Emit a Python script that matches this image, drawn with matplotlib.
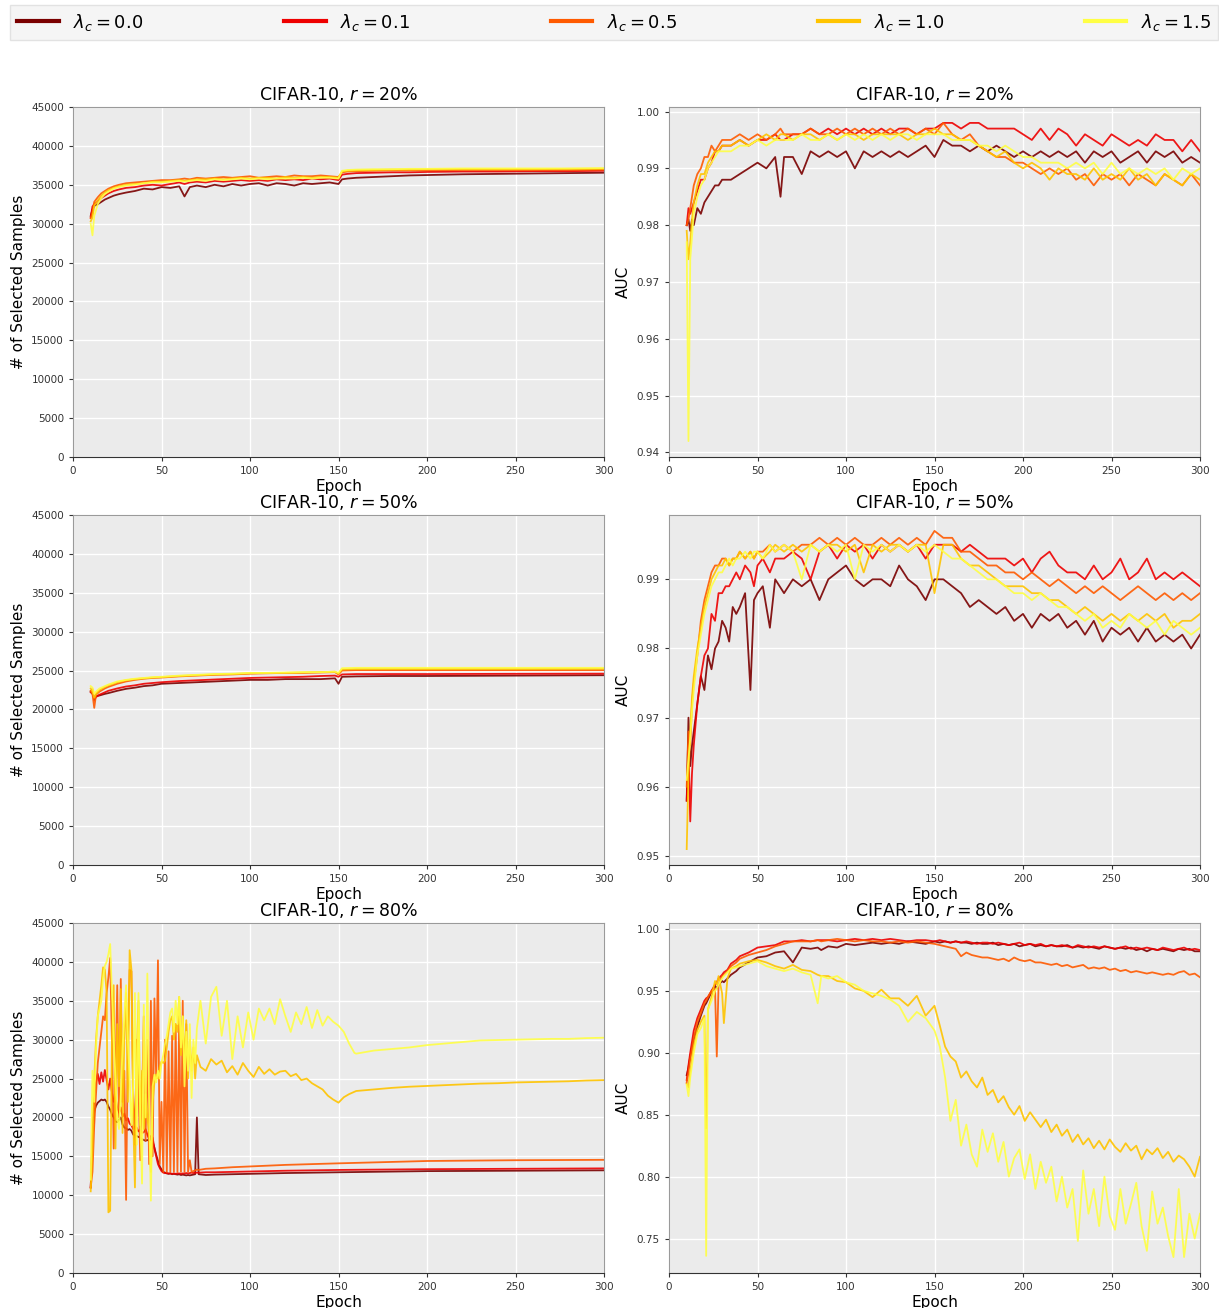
import numpy as np
from matplotlib import pyplot as plt

# line colours for lambda_c = 0.0, 0.1, 0.5, 1.0, 1.5
lam_labels = [r'$\lambda_c = 0.0$', r'$\lambda_c = 0.1$', r'$\lambda_c = 0.5$',
              r'$\lambda_c = 1.0$', r'$\lambda_c = 1.5$']
lam_colors = ['#7a0000', '#ee0000', '#ff5a00', '#ffc400', '#ffff44']

## ---- r = 20%, number of selected samples ----
ep_a = [10, 11, 12, 14, 16, 18, 20, 23, 26, 30, 35, 40, 45, 50, 55, 60, 63, 66, 70, 75, 80,
        85, 90, 95, 100, 105, 110, 115, 120, 125, 130, 135, 140, 145, 150, 152, 155, 160,
        170, 180, 190, 200, 220, 240, 260, 280, 300]
sel20_l00 = [31000, 31800, 32300, 32500, 32800, 33100, 33300, 33600, 33800, 34000, 34200, 34500,
             34400, 34700, 34600, 34800, 33500, 34700, 34900, 34700, 35000, 34800, 35100, 34900,
             35100, 35200, 34900, 35200, 35100, 34900, 35200, 35100, 35200, 35300, 35100, 35700,
             35800, 35900, 36000, 36100, 36200, 36250, 36350, 36400, 36450, 36500, 36550]
sel20_l01 = [30800, 32200, 32500, 32900, 33300, 33600, 33900, 34200, 34400, 34600, 34700, 34900,
             35000, 34900, 35100, 35300, 35100, 35300, 35400, 35300, 35500, 35400, 35500, 35600,
             35500, 35600, 35500, 35700, 35600, 35700, 35600, 35800, 35700, 35800, 35600, 36300,
             36400, 36500, 36550, 36600, 36600, 36650, 36700, 36700, 36750, 36750, 36800]
sel20_l05 = [30700, 31500, 32800, 33400, 33900, 34200, 34500, 34800, 35000, 35200, 35300, 35400,
             35500, 35600, 35600, 35700, 35800, 35700, 35900, 35800, 35900, 36000, 35900, 36000,
             36100, 35900, 36000, 36100, 36000, 36200, 36100, 36100, 36200, 36100, 36000, 36600,
             36700, 36750, 36800, 36850, 36850, 36850, 36900, 36900, 36900, 36900, 36950]
sel20_l10 = [30300, 30800, 32300, 33000, 33600, 34000, 34300, 34600, 34800, 35000, 35100, 35200,
             35400, 35400, 35500, 35600, 35500, 35600, 35700, 35700, 35800, 35700, 35800, 35900,
             35800, 35900, 35900, 35800, 36000, 35900, 36000, 35900, 36000, 36000, 35900, 36700,
             36800, 36850, 36900, 36950, 36950, 37000, 37000, 37000, 37000, 37050, 37050]
sel20_l15 = [30000, 28500, 31000, 32500, 33300, 33800, 34100, 34500, 34700, 34900, 35000, 35200,
             35300, 35300, 35400, 35500, 35400, 35500, 35600, 35500, 35700, 35600, 35700, 35800,
             35700, 35800, 35700, 35800, 35800, 35800, 35900, 35800, 35900, 35900, 35800, 36800,
             36900, 36950, 37000, 37000, 37050, 37050, 37100, 37100, 37100, 37100, 37150]

## ---- r = 50%, number of selected samples ----
ep_b = [10, 11, 12, 13, 15, 18, 20, 25, 30, 35, 40, 45, 50, 60, 70, 80, 90, 100, 110, 120,
        130, 140, 148, 150, 152, 160, 180, 200, 250, 300]
sel50_l00 = [22300, 22000, 21500, 21700, 21800, 22000, 22100, 22400, 22650, 22800, 23000, 23100,
             23300, 23400, 23500, 23600, 23700, 23800, 23800, 23900, 23900, 23900, 24000, 23300,
             24200, 24250, 24300, 24300, 24350, 24400]
sel50_l01 = [22200, 22600, 21200, 21600, 21900, 22200, 22400, 22700, 22950, 23100, 23300, 23400,
             23500, 23650, 23750, 23850, 23950, 24050, 24100, 24150, 24200, 24300, 24350, 24200,
             24500, 24550, 24550, 24550, 24580, 24600]
sel50_l05 = [22400, 22000, 20200, 21900, 22300, 22700, 22900, 23300, 23600, 23800, 23950, 24050,
             24100, 24250, 24350, 24450, 24500, 24600, 24650, 24700, 24700, 24750, 24800, 24500,
             25000, 25050, 25050, 25050, 25050, 25050]
sel50_l10 = [22700, 22300, 21500, 22000, 22500, 22900, 23100, 23500, 23750, 23900, 24000, 24100,
             24150, 24300, 24400, 24500, 24550, 24650, 24700, 24700, 24750, 24800, 24850, 24600,
             25150, 25200, 25200, 25200, 25200, 25220]
sel50_l15 = [23000, 22800, 22000, 22300, 22700, 23000, 23200, 23600, 23800, 23950, 24050, 24150,
             24200, 24350, 24450, 24550, 24600, 24700, 24700, 24750, 24800, 24800, 24850, 24700,
             25300, 25350, 25350, 25350, 25350, 25350]

## ---- r = 80%, number of selected samples ----
ep_c_early = list(range(10, 71))
ep_c_tail = [71, 75, 80, 90, 100, 120, 150, 200, 250, 300]
ep_c_mid = list(range(72, 160, 3))
ep_c_late = list(range(160, 301, 10))
sel80_l00 = [11000, 17000, 20800, 21500, 21900, 22100, 22300, 22200, 22300, 22000,
             21400, 21000, 20400, 20000, 19500, 19400, 19700, 20000, 19100, 18700,
             18600, 18400, 18500, 18300, 17800, 17700, 17600, 17500, 17400, 17200,
             17100, 17000, 17100, 17000, 17300, 16900, 16100, 15200, 14400, 13700,
             13300, 13000, 12900, 12800, 12750, 12800, 12700, 12750, 12700, 12650,
             12700, 12600, 12650, 12600, 12550, 12600, 12550, 12600, 12650, 12700,
             20000,
             12700, 12600, 12650, 12700, 12750, 12850, 12950, 13100, 13150, 13200]
sel80_l01 = [11000, 17500, 22500, 24500, 25600, 24300, 25800, 24600, 26100, 24800,
             23600, 25000, 23200, 22000, 22600, 21200, 20600, 21300, 20100, 20500,
             19600, 19900, 19200, 19000, 18500, 18800, 18700, 18200, 18400, 18000,
             18100, 18500, 17800, 17200, 17600, 17400, 16000, 15000, 14000, 13500,
             13100, 12900, 12850, 12850, 12800, 12800, 12750, 12800, 12750, 12800,
             12800, 12750, 12800, 12800, 12850, 12800, 12850, 12900, 12850, 12900,
             12900,
             12900, 12950, 12950, 13000, 13050, 13150, 13250, 13350, 13400, 13450]
sel80_l05 = [11000, 13000, 19000, 23000, 27000, 29000, 31000, 33000, 32500, 36000,
             38000, 40500, 30000, 16000, 25000, 37000, 20000, 37800, 22000, 26000,
             9400, 30000, 39000, 38800, 23000, 16500, 30000, 24000, 14500, 22000,
             33000, 17000, 30000, 14000, 35000, 15000, 35300, 25000, 40200, 14000,
             22000, 13000, 30000, 13000, 28500, 13000, 30500, 13000, 32000, 13000,
             33000, 13000, 35000, 13000, 32000, 13000, 14500, 13000, 13100, 13200,
             13300,
             13250, 13400, 13450, 13600, 13700, 13900, 14100, 14400, 14500, 14550]
sel80_l10 = [10500, 16000, 25000, 30000, 33000, 35000, 37000, 39300, 39000, 36000,
             7800, 8000, 30000, 37000, 16000, 32000, 24000, 36500, 18000, 30000,
             36000, 22000, 41500, 39000, 20000, 11000, 28000, 35000, 19000, 26000,
             18500, 23000, 20000, 18000, 13000, 22000, 24500, 25500, 25000, 26500,
             27200, 27000, 27300, 29000, 31000, 32500, 33000, 30000, 32000, 31000,
             35500, 28000, 33000, 27000, 32500, 25000, 30000, 26000, 29000, 25000,
             28000,
             26500, 26000, 27500, 26800, 27300, 25800, 26600, 25500, 27000, 26000,
             25200, 26500, 25600, 26200, 25500, 25900, 26000, 25300, 25600, 24800,
             25000, 24400, 24000, 23600, 22800, 22300, 21900, 22600, 23000, 23300,
             23400, 23600, 23800, 23950, 24050, 24150, 24250, 24350, 24400, 24500,
             24550, 24600, 24650, 24750, 24800]
sel80_l15 = [12000, 26000, 22000, 29000, 33000, 34000, 35000, 38000, 39500, 40000,
             41000, 42300, 36000, 30000, 25000, 20000, 18500, 23000, 29000, 33000,
             37000, 30000, 25000, 19000, 24000, 36000, 16500, 36000, 20000, 11500,
             34500, 20000, 38500, 22000, 9300, 24000, 25500, 24500, 26000, 25000,
             27000, 28000, 29500, 30500, 32000, 33500, 34000, 31000, 35000, 32000,
             35500, 29000, 33000, 24000, 31000, 26000, 32000, 22500, 30000, 27000,
             31500,
             35000, 29500, 35500, 36800, 30500, 35000, 27500, 33000, 29000, 33500,
             30000, 34000, 32500, 34000, 32000, 35200, 33000, 31000, 33500, 32000,
             34200, 31500, 33800, 31800, 33000, 32300, 31800, 31000, 29500, 28300,
             28200, 28600, 28800, 29000, 29300, 29500, 29700, 29900, 29950, 30000,
             30050, 30100, 30100, 30200, 30250]

## ---- r = 20%, AUC (in 1/1000) ----
ep_d = [10, 11, 12, 13, 14, 16, 18, 20, 22, 24, 26, 28, 30, 35, 40, 45, 50, 55, 60, 63, 65] + \
       list(range(70, 301, 5))
auc20_l00 = [980, 981, 979, 981, 980, 983, 982, 984, 985, 986, 987, 987, 988, 988, 989, 990, 991,
             990, 992, 985, 992,
             992, 989, 993, 992, 993, 992, 993, 990, 993, 992, 993, 992, 993, 992, 993, 994, 992,
             995, 994, 994, 993, 994, 993, 994, 993, 992, 993, 992, 993, 992, 993, 992, 993, 991,
             993, 992, 993, 991, 992, 993, 991, 993, 992, 993, 991, 992, 991]
auc20_l01 = [980, 983, 982, 983, 984, 986, 988, 988, 990, 991, 993, 993, 994, 994, 995, 994, 995,
             995, 996, 995, 995,
             996, 996, 997, 996, 997, 996, 997, 996, 997, 996, 997, 996, 997, 997, 996, 997, 997,
             998, 998, 997, 998, 998, 997, 997, 997, 997, 996, 995, 997, 995, 997, 996, 994, 996,
             995, 994, 996, 995, 994, 995, 994, 996, 995, 995, 993, 995, 993]
auc20_l05 = [980, 981, 983, 985, 987, 989, 990, 992, 992, 994, 993, 994, 995, 995, 996, 995, 996,
             995, 996, 997, 996,
             996, 996, 997, 996, 996, 997, 996, 997, 996, 997, 996, 997, 996, 997, 996, 997, 996,
             998, 996, 995, 996, 994, 993, 992, 992, 991, 991, 990, 989, 990, 989, 990, 988, 989,
             987, 989, 988, 989, 987, 989, 988, 987, 989, 988, 987, 989, 987]
auc20_l10 = [979, 974, 977, 981, 984, 987, 989, 989, 991, 992, 993, 993, 994, 994, 995, 994, 995,
             996, 995, 996, 996,
             995, 996, 996, 995, 996, 995, 996, 996, 995, 996, 996, 996, 996, 995, 996, 996, 997,
             996, 996, 995, 995, 994, 993, 992, 993, 991, 990, 991, 990, 988, 990, 989, 989, 988,
             990, 988, 989, 988, 990, 988, 989, 987, 989, 988, 987, 989, 988]
auc20_l15 = [977, 942, 974, 978, 982, 985, 987, 988, 990, 991, 992, 993, 993, 993, 994, 994, 995,
             994, 995, 995, 995,
             995, 996, 995, 995, 996, 995, 996, 995, 996, 995, 996, 995, 996, 996, 995, 996, 996,
             996, 995, 995, 995, 994, 994, 993, 994, 993, 992, 992, 991, 991, 991, 990, 991, 990,
             991, 989, 991, 989, 990, 989, 990, 989, 990, 988, 990, 989, 990]

## ---- r = 50%, AUC (in 1/1000) ----
ep_e = [10, 11, 12, 13, 14, 16, 18, 20, 22, 24, 26, 28, 30, 32, 34, 36, 38, 40, 43, 46, 48, 50,
        53, 57, 60, 65] + list(range(70, 301, 5))
auc50_l00 = [958, 970, 963, 966, 968, 972, 976, 974, 979, 977, 980, 981, 984, 983, 981, 986, 985,
             986, 988, 974, 987, 988, 989, 983, 990, 988,
             990, 989, 990, 987, 990, 991, 992, 990, 989, 990, 990, 989, 992, 990, 989, 987, 990,
             990, 989, 988, 986, 987, 986, 985, 986, 984, 985, 983, 985, 984, 985, 983, 984, 982,
             984, 981, 983, 982, 983, 981, 983, 981, 982, 981, 982, 980, 982]
auc50_l01 = [958, 966, 955, 962, 966, 972, 976, 979, 980, 985, 984, 988, 988, 989, 989, 990, 991,
             990, 992, 991, 989, 992, 993, 991, 993, 993,
             994, 993, 990, 994, 995, 993, 995, 994, 995, 993, 995, 994, 995, 994, 995, 993, 995,
             995, 995, 994, 995, 994, 993, 993, 993, 992, 993, 991, 993, 994, 992, 991, 991, 990,
             992, 990, 991, 993, 990, 991, 993, 990, 991, 990, 991, 990, 989]
auc50_l05 = [960, 968, 966, 972, 975, 979, 984, 987, 989, 991, 992, 992, 993, 993, 992, 993, 993,
             994, 993, 994, 993, 994, 994, 995, 994, 995,
             994, 995, 995, 996, 995, 996, 995, 996, 995, 995, 996, 995, 996, 995, 996, 995, 997,
             996, 996, 994, 994, 993, 992, 992, 991, 991, 990, 991, 990, 989, 990, 989, 988, 989,
             988, 989, 988, 987, 988, 989, 988, 987, 988, 987, 988, 987, 988]
auc50_l10 = [951, 962, 968, 973, 976, 980, 983, 986, 988, 990, 991, 992, 992, 993, 992, 993, 993,
             994, 993, 994, 993, 994, 993, 994, 995, 994,
             995, 994, 995, 994, 995, 995, 994, 995, 991, 995, 994, 995, 995, 994, 995, 995, 988,
             995, 995, 993, 992, 992, 991, 990, 989, 989, 989, 988, 988, 987, 987, 986, 985, 986,
             985, 984, 985, 984, 985, 984, 985, 984, 985, 983, 984, 984, 985]
auc50_l15 = [961, 964, 967, 971, 974, 979, 982, 985, 987, 989, 990, 991, 991, 992, 993, 992, 993,
             993, 994, 993, 994, 994, 993, 995, 994, 995,
             994, 990, 995, 994, 995, 994, 995, 990, 995, 994, 995, 994, 995, 994, 995, 994, 995,
             994, 993, 993, 992, 991, 990, 990, 989, 988, 988, 987, 988, 987, 986, 986, 985, 984,
             985, 983, 984, 983, 985, 984, 983, 984, 982, 984, 983, 982, 983]

## ---- r = 80%, AUC (in 1/1000) ----
ep_f = [10, 11, 12, 14, 16, 18, 20, 21, 22, 24, 26, 27, 28, 30, 31, 33, 35, 38, 40, 45, 50, 55,
        60, 65, 70, 75, 80, 84, 86, 90, 95, 100, 105, 110, 115, 120, 125, 130, 135, 140, 145] + \
       list(range(150, 301, 3))
auc80_l00 = [882, 888, 897, 911, 921, 930, 938, 940, 943, 949, 954, 952, 955, 958, 957, 960, 963,
             966, 969, 973, 977, 978, 981, 982, 973, 985, 984, 985, 983, 986, 985, 988, 987, 988,
             989, 988, 989, 988, 990, 989, 988,
             990, 989, 990, 989, 990, 989, 989, 988, 989, 988, 988, 989, 987, 988, 987, 988, 986,
             987, 988, 986, 987, 986, 987, 986, 986, 987, 985, 986, 985, 986, 985, 984, 986, 985,
             984, 985, 984, 985, 983, 984, 982, 984, 983, 984, 983, 982, 984, 983, 984, 982, 982]
auc80_l01 = [878, 890, 900, 918, 928, 935, 942, 944, 945, 950, 955, 957, 960, 963, 965, 967, 972,
             975, 978, 981, 985, 986, 987, 990, 990, 991, 990, 991, 991, 991, 990, 991, 992, 991,
             992, 991, 992, 991, 990, 991, 991,
             990, 991, 990, 989, 990, 989, 990, 989, 988, 989, 989, 988, 989, 988, 987, 988, 989,
             987, 988, 987, 988, 986, 987, 986, 987, 986, 985, 987, 986, 985, 986, 985, 986, 985,
             984, 985, 986, 984, 985, 984, 985, 984, 983, 985, 984, 983, 984, 985, 983, 984, 983]
auc80_l05 = [876, 884, 895, 912, 925, 932, 940, 942, 945, 950, 952, 897, 955, 962, 963, 966, 970,
             973, 976, 979, 981, 983, 986, 988, 990, 990, 990, 991, 990, 991, 992, 991, 990, 991,
             990, 990, 989, 990, 989, 990, 989,
             988, 987, 986, 985, 984, 978, 981, 979, 978, 977, 977, 976, 975, 976, 974, 977, 975,
             974, 975, 973, 973, 972, 971, 972, 970, 971, 969, 970, 971, 968, 969, 968, 969, 967,
             968, 966, 967, 965, 966, 965, 964, 965, 964, 963, 964, 963, 965, 966, 963, 964, 961]
auc80_l10 = [875, 872, 885, 905, 918, 925, 930, 839, 935, 945, 958, 955, 962, 948, 924, 960, 968,
             970, 972, 974, 975, 973, 970, 968, 971, 967, 966, 963, 962, 962, 958, 957, 952, 950,
             945, 951, 944, 944, 938, 946, 930,
             938, 922, 905, 897, 893, 880, 885, 877, 872, 880, 866, 870, 860, 865, 856, 850, 857,
             845, 852, 846, 840, 846, 836, 842, 833, 838, 828, 834, 826, 831, 823, 829, 822, 830,
             824, 820, 827, 821, 825, 814, 822, 818, 823, 815, 820, 812, 817, 814, 808, 800, 816]
auc80_l15 = [874, 865, 880, 900, 915, 920, 928, 736, 935, 942, 950, 952, 955, 960, 962, 965, 968,
             969, 970, 972, 974, 970, 968, 966, 968, 965, 963, 940, 962, 960, 962, 957, 955, 950,
             948, 946, 943, 938, 925, 933, 928,
             918, 905, 880, 845, 862, 825, 842, 818, 808, 838, 820, 835, 812, 828, 800, 815, 822,
             798, 818, 790, 812, 795, 808, 780, 800, 775, 790, 748, 805, 770, 790, 760, 800, 768,
             757, 790, 762, 778, 795, 760, 740, 788, 762, 775, 752, 735, 790, 735, 770, 750, 770]


def style_axes(ax, title, ylabel):
    ax.set_facecolor('#ebebeb')
    ax.grid(True, color='white', linewidth=1.0)
    ax.set_axisbelow(True)
    for side in ['top', 'right', 'left']:
        ax.spines[side].set_color('#9a9a9a')
    ax.spines['bottom'].set_color('#333333')
    ax.tick_params(labelsize=7.5, colors='#333333', length=3, width=0.8)
    ax.set_title(title, fontsize=12.5, pad=5)
    ax.set_xlabel('Epoch', fontsize=11, labelpad=2)
    ax.set_ylabel(ylabel, fontsize=11, labelpad=4)
    ax.set_xlim(0, 300)
    ax.set_xticks(np.arange(0, 301, 50))


fig = plt.figure(figsize=(12.19, 13.08), dpi=100)

lefts = [73 / 1219, 669 / 1219]
bottoms = [1 - 457 / 1308, 1 - 865 / 1308, 1 - 1273 / 1308]
w = 531 / 1219
h = 350 / 1308

axs = [[fig.add_axes([lefts[c], bottoms[r], w, h]) for c in range(2)] for r in range(3)]

# left column: number of selected samples
sel_panels = [
    ('20', [(ep_a, sel20_l00), (ep_a, sel20_l01), (ep_a, sel20_l05), (ep_a, sel20_l10), (ep_a, sel20_l15)]),
    ('50', [(ep_b, sel50_l00), (ep_b, sel50_l01), (ep_b, sel50_l05), (ep_b, sel50_l10), (ep_b, sel50_l15)]),
    ('80', [(ep_c_early + ep_c_tail, sel80_l00), (ep_c_early + ep_c_tail, sel80_l01),
            (ep_c_early + ep_c_tail, sel80_l05),
            (ep_c_early + ep_c_mid + ep_c_late, sel80_l10), (ep_c_early + ep_c_mid + ep_c_late, sel80_l15)]),
]
for r, (pct, series) in enumerate(sel_panels):
    ax = axs[r][0]
    for (x, y), col in zip(series, lam_colors):
        ax.plot(x, y, color=col, lw=1.3, alpha=0.9)
    style_axes(ax, r'CIFAR-10, $r = %s\%%$' % pct, '# of Selected Samples')
    ax.set_ylim(0, 45000)
    ax.set_yticks(np.arange(0, 45001, 5000))

# right column: AUC (y range left to autoscale)
auc_panels = [
    ('20', ep_d, [auc20_l00, auc20_l01, auc20_l05, auc20_l10, auc20_l15]),
    ('50', ep_e, [auc50_l00, auc50_l01, auc50_l05, auc50_l10, auc50_l15]),
    ('80', ep_f, [auc80_l00, auc80_l01, auc80_l05, auc80_l10, auc80_l15]),
]
for r, (pct, x, series) in enumerate(auc_panels):
    ax = axs[r][1]
    for y, col in zip(series, lam_colors):
        ax.plot(x, np.array(y) / 1000.0, color=col, lw=1.3, alpha=0.9)
    style_axes(ax, r'CIFAR-10, $r = %s\%%$' % pct, 'AUC')

handles = [plt.Line2D([], [], color=c, lw=3) for c in lam_colors]
leg = fig.legend(handles, lam_labels, loc='lower left', ncol=5, mode='expand',
                 bbox_to_anchor=(10 / 1219, 1 - 40 / 1308, 1208 / 1219, 34 / 1308),
                 fontsize=13, frameon=True, fancybox=False, handlelength=2.3,
                 borderaxespad=0.0)
leg.get_frame().set_facecolor('#f3f3f3')
leg.get_frame().set_edgecolor('#dddddd')

fig.savefig('out.png', dpi=100)
